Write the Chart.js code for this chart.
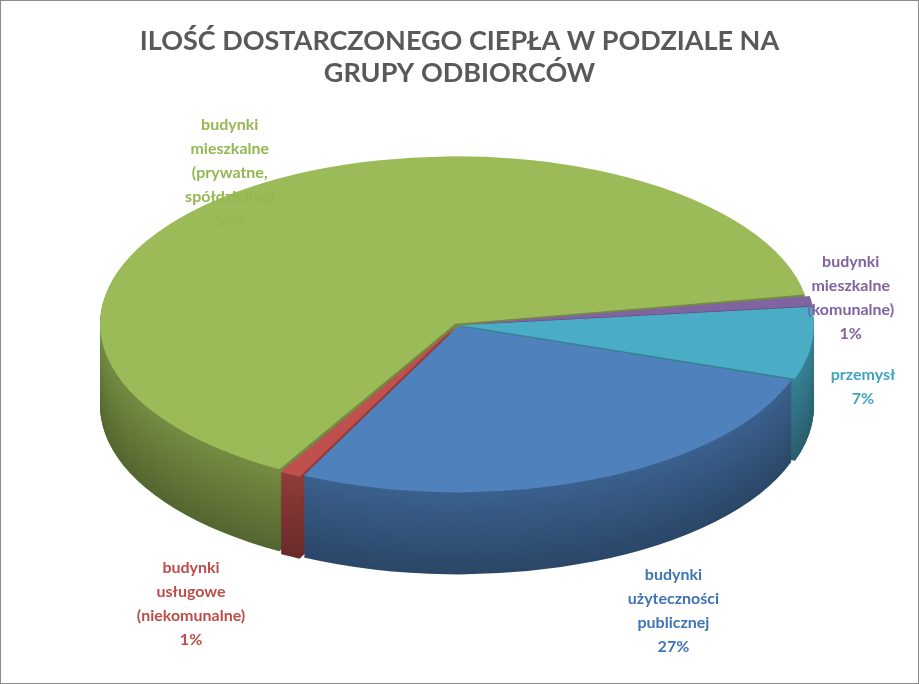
<!DOCTYPE html>
<html>
<head>
<meta charset="utf-8">
<script src="https://cdn.jsdelivr.net/npm/chart.js@4"></script>
<style>
  body { margin: 0; background: #fff; }
  #wrap { position: relative; width: 917px; height: 682px; border: 1px solid #8c8c8c; }
</style>
</head>
<body>
<div id="wrap"><canvas id="chart" width="917" height="682"></canvas></div>
<script>
const labels = [
  ["budynki", "mieszkalne", "(komunalne)"],
  ["przemysł"],
  ["budynki", "użyteczności", "publicznej"],
  ["budynki", "usługowe", "(niekomunalne)"],
  ["budynki", "mieszkalne", "(prywatne,", "spółdzielnie)"]
];
const values = [1, 7, 27, 1, 64];
const colors = ["#8064a2", "#4bacc6", "#4f81bd", "#c0504d", "#9bbb59"];
const textColors = ["#7f63a1", "#3fa5c2", "#3f73b6", "#be4b48", "#93b850"];

function shade(hex, k) {
  const n = parseInt(hex.slice(1), 16);
  const r = Math.round(((n >> 16) & 255) * k), g = Math.round(((n >> 8) & 255) * k), b = Math.round((n & 255) * k);
  return `rgb(${r},${g},${b})`;
}

// squash the pie into an ellipse and give it a side wall
const tilt = {
  id: "tilt",
  beforeDatasetsDraw(chart, args, opts) {
    const ctx = chart.ctx;
    const meta = chart.getDatasetMeta(0);
    const r = meta.data[0].outerRadius;
    const ex = meta.data[0].x, ey = meta.data[0].y;
    const sx = opts.rx / r, sy = opts.ry / r;
    const paint = (dy, k) => {
      ctx.save();
      ctx.translate(opts.cx, opts.cy + dy);
      ctx.scale(sx, sy);
      ctx.translate(-ex, -ey);
      meta.data.forEach((el, i) => {
        const o = el.options;
        const bg = o.backgroundColor, bw = o.borderWidth;
        o.backgroundColor = k === 1 ? colors[i] : shade(colors[i], k);
        o.borderWidth = 0;
        el.draw(ctx);
        o.backgroundColor = bg; o.borderWidth = bw;
      });
      ctx.restore();
    };
    for (let d = opts.depth; d > 0; d -= 1) paint(d, 0.55 + 0.2 * (1 - d / opts.depth));
    paint(0, 1);

    // labels
    ctx.save();
    ctx.font = "bold 16px Lato, 'Open Sans', sans-serif";
    ctx.textAlign = "center";
    ctx.textBaseline = "middle";
    meta.data.forEach((el, i) => {
      const mid = (el.startAngle + el.endAngle) / 2;
      const f = opts.labelR[i];
      const x = opts.cx + Math.cos(mid) * opts.rx * f;
      let y = opts.cy + Math.sin(mid) * opts.ry * f;
      if (Math.sin(mid) > 0) y += opts.depth * 0.5;
      const lines = labels[i].concat([values[i] + "%"]);
      ctx.fillStyle = textColors[i];
      const lh = 24;
      const y0 = y - (lines.length - 1) * lh / 2;
      lines.forEach((t, j) => ctx.fillText(t, x, y0 + j * lh));
    });
    ctx.restore();
    return false;
  }
};

new Chart(document.getElementById("chart"), {
  type: "pie",
  data: {
    labels: labels.map(l => l.join(" ")),
    datasets: [{ data: values, backgroundColor: colors, borderWidth: 0, offset: 10 }]
  },
  options: {
    responsive: false,
    animation: false,
    rotation: 80,
    layout: { padding: 20 },
    plugins: {
      legend: { display: false },
      tooltip: { enabled: false },
      title: {
        display: true,
        text: ["ILOŚĆ DOSTARCZONEGO CIEPŁA W PODZIALE NA", "GRUPY ODBIORCÓW"],
        color: "#595959",
        font: { family: "Lato, 'Open Sans', sans-serif", size: 27, weight: "bold" },
        padding: { top: 4, bottom: 0 },
        lineHeight: 1.3
      },
      tilt: { cx: 456, cy: 324, rx: 352, ry: 166, depth: 82, labelR: [1.13, 1.16, 1.6, 1.62, 1.12] }
    }
  },
  plugins: [tilt]
});
</script>
</body>
</html>
